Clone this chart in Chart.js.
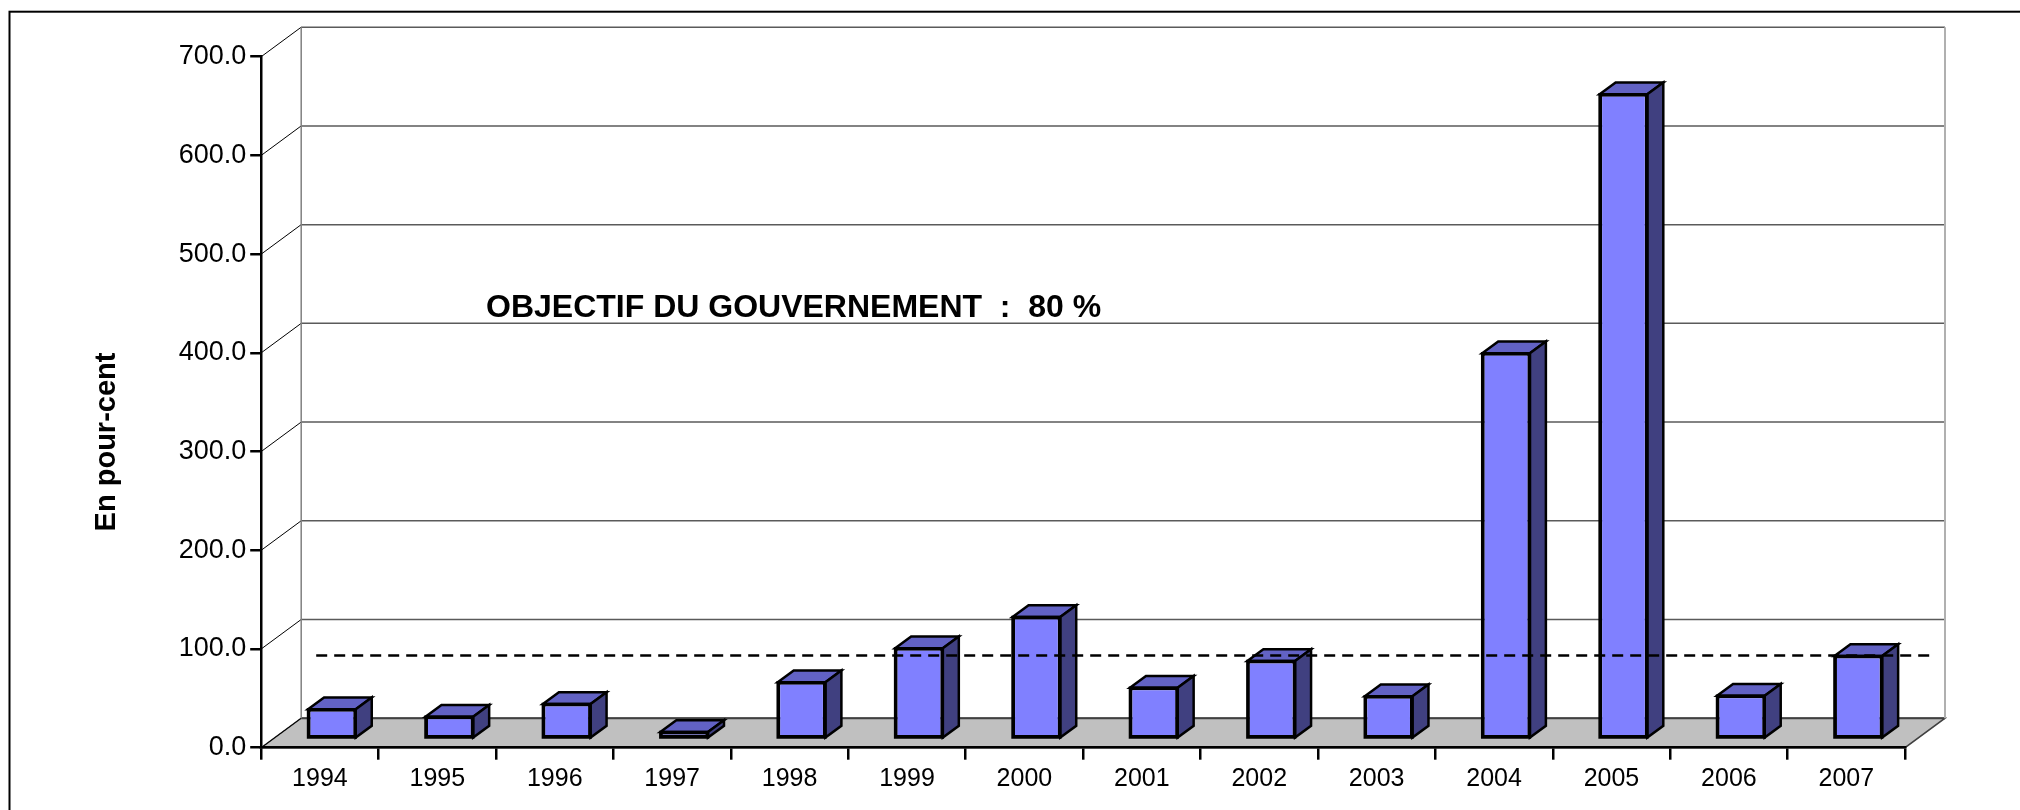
<!DOCTYPE html>
<html><head><meta charset="utf-8">
<script src="https://cdn.jsdelivr.net/npm/chart.js@4.4.0/dist/chart.umd.min.js"></script>
<style>html,body{margin:0;padding:0;background:#fff;overflow:hidden}canvas{display:block}</style>
</head><body>
<canvas id="c" width="2020" height="810"></canvas>
<script>
const categories = ['1994','1995','1996','1997','1998','1999','2000','2001','2002','2003','2004','2005','2006','2007'];
const values = [30, 22.4, 35.3, 6.9, 57.3, 91.7, 123.4, 51.8, 78.9, 43.1, 390.6, 652.9, 43.7, 83.9];
const yTicks = [0, 100, 200, 300, 400, 500, 600, 700];
const target = 80;
const targetLabel = 'OBJECTIF DU GOUVERNEMENT  :  80 %';
const yTitle = 'En pour-cent';

const FONT = '"Liberation Sans", Arial, Helvetica, sans-serif';
const DX = 40, DY = -29.5;
const BAR_FRONT = 0.3, BAR_BACK = 0.7, LINE_DEPTH = 0.45;

function line(ctx, x1, y1, x2, y2) { ctx.beginPath(); ctx.moveTo(x1, y1); ctx.lineTo(x2, y2); ctx.stroke(); }
function poly(ctx, pts, fill) {
  ctx.beginPath(); ctx.moveTo(pts[0][0], pts[0][1]);
  for (let i = 1; i < pts.length; i++) ctx.lineTo(pts[i][0], pts[i][1]);
  ctx.closePath(); ctx.fillStyle = fill; ctx.fill(); ctx.stroke();
}

const threeD = {
  id: 'threeD',
  beforeDraw(chart) {
    const {ctx, chartArea: a, scales: {y}} = chart;
    ctx.save();
    ctx.fillStyle = '#fff'; ctx.fillRect(0, 0, chart.width, chart.height);
    const y0 = y.getPixelForValue(0);
    const yTop = y.getPixelForValue(yTicks[yTicks.length - 1]);
    // floor
    ctx.strokeStyle = '#404040'; ctx.lineWidth = 1.5;
    poly(ctx, [[a.left, y0], [a.right, y0], [a.right + DX, y0 + DY], [a.left + DX, y0 + DY]], '#c0c0c0');
    // back wall grid lines & side diagonals
    yTicks.forEach(v => {
      const py = y.getPixelForValue(v);
      ctx.strokeStyle = v === 0 ? '#404040' : '#5a5a5a'; ctx.lineWidth = v === 0 ? 2 : 1.5;
      line(ctx, a.left + DX, py + DY, a.right + DX, py + DY);
      ctx.strokeStyle = '#000'; ctx.lineWidth = 1;
      line(ctx, a.left, py, a.left + DX, py + DY);
    });
    ctx.strokeStyle = '#808080'; ctx.lineWidth = 1.5;
    line(ctx, a.left + DX, yTop + DY, a.left + DX, y0 + DY);
    ctx.strokeStyle = '#b0b0b0'; ctx.lineWidth = 2;
    line(ctx, a.right + DX, yTop + DY, a.right + DX, y0 + DY);
    ctx.restore();
  },
  beforeDatasetDraw(chart) {
    chart.ctx.save();
    chart.ctx.translate(BAR_FRONT * DX, BAR_FRONT * DY);
  },
  afterDatasetDraw(chart, args) {
    const ctx = chart.ctx;
    ctx.restore();
    ctx.save();
    const fx = BAR_FRONT * DX, fy = BAR_FRONT * DY;
    const bx = (BAR_BACK - BAR_FRONT) * DX, by = (BAR_BACK - BAR_FRONT) * DY;
    ctx.strokeStyle = '#000'; ctx.lineWidth = 2.5; ctx.lineJoin = 'miter';
    args.meta.data.forEach(el => {
      const p = el.getProps(['x', 'y', 'base', 'width'], true);
      const xl = p.x - p.width / 2 + fx, xr = p.x + p.width / 2 + fx;
      const yt = p.y + fy, yb = p.base + fy;
      poly(ctx, [[xl, yt], [xl + bx, yt + by], [xr + bx, yt + by], [xr, yt]], '#6262c4');
      poly(ctx, [[xr, yt], [xr + bx, yt + by], [xr + bx, yb + by], [xr, yb]], '#404080');
      // re-stroke front outline for crisp edges
      ctx.beginPath(); ctx.rect(xl, yt, xr - xl, yb - yt); ctx.stroke();
    });
    ctx.restore();
  },
  afterDatasetsDraw(chart) {
    const {ctx, chartArea: a, scales: {y}} = chart;
    ctx.save();
    const ty = y.getPixelForValue(target) + LINE_DEPTH * DY;
    ctx.strokeStyle = '#000'; ctx.lineWidth = 2.5; ctx.setLineDash([11, 7]);
    line(ctx, a.left + 37 + LINE_DEPTH * DX, ty, a.right + 10 + LINE_DEPTH * DX, ty);
    ctx.setLineDash([]);
    ctx.fillStyle = '#000';
    ctx.font = 'bold 32px ' + FONT; ctx.textAlign = 'left'; ctx.textBaseline = 'alphabetic';
    ctx.fillText(targetLabel, 486, 317);
    ctx.translate(115, 442); ctx.rotate(-Math.PI / 2);
    ctx.font = 'bold 29px ' + FONT; ctx.textAlign = 'center';
    ctx.fillText(yTitle, 0, 0);
    ctx.restore();
  },
  afterDraw(chart) {
    const ctx = chart.ctx;
    ctx.save();
    ctx.strokeStyle = '#000'; ctx.lineWidth = 2;
    ctx.strokeRect(9.5, 11.7, 3000, 3000);
    ctx.restore();
  }
};

new Chart(document.getElementById('c'), {
  type: 'bar',
  data: {
    labels: categories,
    datasets: [{
      data: values, backgroundColor: '#8080ff', borderColor: '#000', borderWidth: 2.5,
      barPercentage: 0.406, categoryPercentage: 1, borderSkipped: false, clip: false
    }]
  },
  options: {
    responsive: false, animation: false, devicePixelRatio: 1,
    layout: { padding: { top: 56.7, right: 115, left: 0, bottom: 0 } },
    plugins: { legend: { display: false }, tooltip: { enabled: false }, title: { display: false } },
    scales: {
      x: {
        offset: true,
        grid: { offset: true, drawOnChartArea: false, drawTicks: true, tickLength: 12, color: '#000', lineWidth: 2.5 },
        border: { display: true, color: '#000', width: 2.5 },
        ticks: { color: '#000', font: { family: FONT, size: 25 }, padding: 4, maxRotation: 0, autoSkip: false },
        afterFit(s) { s.height = 62.3; }
      },
      y: {
        min: 0, max: 700,
        afterBuildTicks(s) { s.ticks = yTicks.map(v => ({ value: v })); },
        ticks: { callback: v => Number(v).toFixed(1), color: '#000', font: { family: FONT, size: 27 }, padding: 4 },
        grid: { drawOnChartArea: false, tickLength: 11, color: '#000', lineWidth: 2.5 },
        border: { display: true, color: '#000', width: 2.5 },
        afterFit(s) { s.width = 261.2; }
      }
    }
  },
  plugins: [threeD]
});
</script>
</body></html>
